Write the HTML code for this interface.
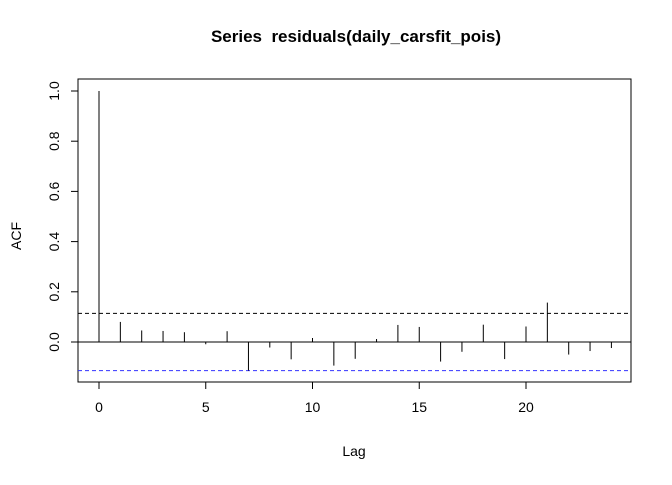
<!DOCTYPE html>
<html><head><meta charset="utf-8"><style>
body{margin:0;background:#fff}
svg text{font-family:"Liberation Sans",Arial,sans-serif;fill:#000}
</style></head><body>
<svg id="c" width="672" height="480" xmlns="http://www.w3.org/2000/svg">
<text x="356" y="42" text-anchor="middle" font-size="17" font-weight="bold">Series &#160;residuals(daily_carsfit_pois)</text>
<text x="354" y="456" text-anchor="middle" font-size="14">Lag</text>
<text transform="translate(21,236) rotate(-90)" text-anchor="middle" font-size="14">ACF</text>
<rect x="78" y="79" width="553" height="303" fill="none" stroke="#000"/>
<g id="g"></g>
</svg>
<script>
const lags=[0,1,2,3,4,5,6,7,8,9,10,11,12,13,14,15,16,17,18,19,20,21,22,23,24];
const acf=[1,0.080,0.046,0.044,0.039,-0.009,0.043,-0.114,-0.022,-0.069,0.016,-0.094,-0.067,0.012,0.068,0.060,-0.078,-0.039,0.069,-0.068,0.062,0.157,-0.050,-0.036,-0.024];
const ci=[0.114];
const xTicks=[0,5,10,15,20];
const yTicks=[0,0.2,0.4,0.6,0.8,1.0];
const X=v=>99+v*21.35, Y=v=>342-v*251;
const g=document.getElementById('g'),NS='http://www.w3.org/2000/svg';
function mk(t,a){const e=document.createElementNS(NS,t);for(const k in a)e.setAttribute(k,a[k]);g.appendChild(e);return e;}
let e=mk('line',{x1:78,x2:631,y1:Y(0),y2:Y(0),stroke:'#000'});


e=mk('line',{x1:78,x2:631,y1:Y(ci[0]),y2:Y(ci[0]),stroke:'#000','stroke-dasharray':'4,3'});


e=mk('line',{x1:78,x2:631,y1:Y(-ci[0]),y2:Y(-ci[0]),stroke:'#3333ff','stroke-dasharray':'4,3'});


lags.forEach((l,i)=>{const b=mk('line',{x1:X(l),x2:X(l),y1:Y(0),y2:Y(acf[i]),stroke:'#000'});

});
mk('line',{x1:X(0),x2:X(20),y1:382,y2:382,stroke:'#000'});
xTicks.forEach(t=>{mk('line',{x1:X(t),x2:X(t),y1:382,y2:389,stroke:'#000'});
const tx=mk('text',{x:X(t),y:412,'text-anchor':'middle','font-size':14});tx.textContent=t;

});
mk('line',{x1:78,x2:78,y1:Y(0),y2:Y(1),stroke:'#000'});
yTicks.forEach(t=>{mk('line',{x1:71,x2:78,y1:Y(t),y2:Y(t),stroke:'#000'});
const tx=mk('text',{transform:`translate(59,${Y(t)}) rotate(-90)`,'text-anchor':'middle','font-size':14});tx.textContent=t.toFixed(1);

});
</script>
</body></html>
